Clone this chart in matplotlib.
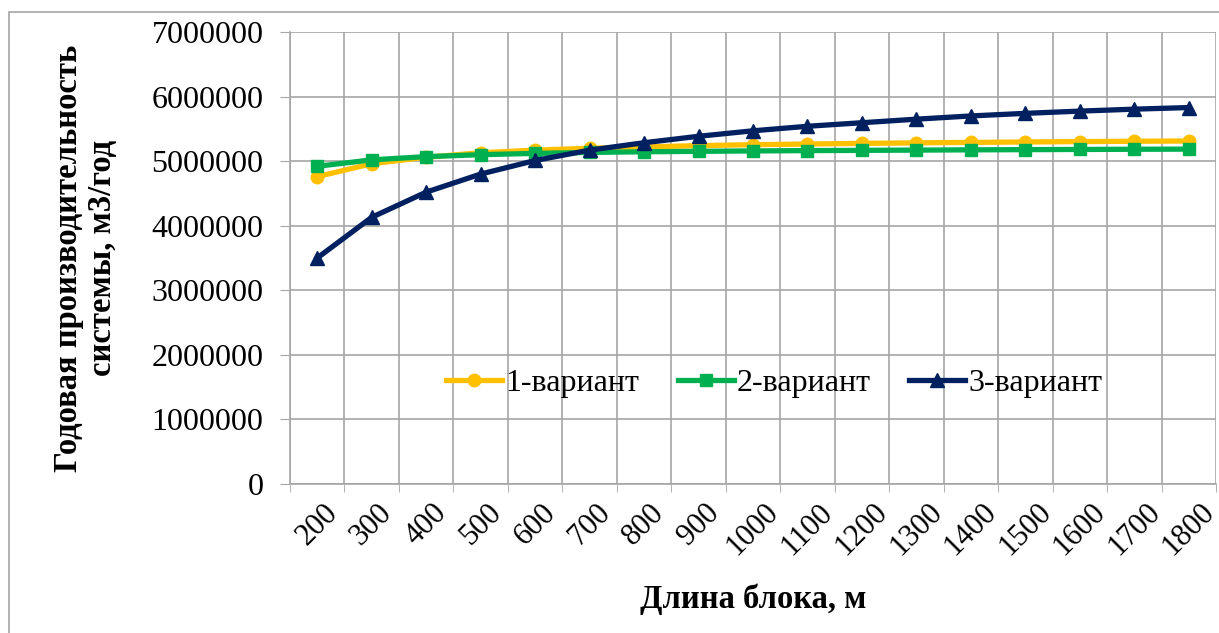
import numpy as np
import matplotlib
matplotlib.use("Agg")
from matplotlib import pyplot as plt
from matplotlib.patches import Rectangle

# block length, m
lengths = [200, 300, 400, 500, 600, 700, 800, 900, 1000, 1100, 1200,
           1300, 1400, 1500, 1600, 1700, 1800]
# annual output, m3/year
var1 = [4760000, 4960000, 5060000, 5130000, 5170000, 5200000, 5220000,
        5240000, 5255000, 5265000, 5275000, 5283000, 5290000, 5297000,
        5303000, 5308000, 5312000]
var2 = [4920000, 5020000, 5070000, 5100000, 5120000, 5135000, 5145000,
        5152000, 5158000, 5163000, 5167000, 5171000, 5175000, 5178000,
        5181000, 5184000, 5186000]
var3 = [3500000, 4130000, 4520000, 4800000, 5010000, 5170000, 5285000,
        5385000, 5470000, 5540000, 5595000, 5650000, 5700000, 5740000,
        5775000, 5805000, 5830000]
series_names = ["1-вариант", "2-вариант", "3-вариант"]

plt.rcParams['font.family'] = ['Liberation Serif', 'DejaVu Serif']

fig = plt.figure(figsize=(12.19, 6.33), dpi=100)
# outer chart frame like excel
fig.patches.append(Rectangle((9/1219, -0.05), 1.2, 1 - 12/633 + 0.05,
                             transform=fig.transFigure, fill=False,
                             edgecolor="#a6a6a6", lw=1.2))
ax = fig.add_axes([290/1219, 1 - 484/633, (1216 - 290)/1219, (484 - 32)/633])

x = np.arange(len(lengths))
ax.plot(x, var1, color="#ffc000", lw=3.8, marker="o", ms=9, label=series_names[0])
ax.plot(x, var2, color="#00b050", lw=3.8, marker="s", ms=9, label=series_names[1])
ax.plot(x, var3, color="#002060", lw=3.8, marker="^", ms=10, label=series_names[2])

ax.set_xlim(-0.5, len(lengths) - 0.5)
ax.set_ylim(0, 7000000)
ax.set_yticks(np.arange(0, 7000001, 1000000))
ax.set_yticklabels([str(v) for v in range(0, 7000001, 1000000)], fontsize=23)
ax.set_xticks(x)
ax.set_xticklabels([str(v) for v in lengths], rotation=45, fontsize=22,
                   ha="center", va="top")
ax.set_xticks(np.arange(-0.5, len(lengths)), minor=True)
ax.tick_params(axis="x", which="major", length=0, pad=10)
ax.tick_params(axis="x", which="minor", length=6, color="#a6a6a6")
ax.tick_params(axis="y", length=7, color="#a6a6a6", pad=12)

ax.grid(True, which="minor", axis="x", color="#a6a6a6", lw=1.2)
ax.grid(True, which="major", axis="y", color="#a6a6a6", lw=1.2)
for s in ["top", "right"]:
    ax.spines[s].set_visible(False)
for s in ["left", "bottom"]:
    ax.spines[s].set_color("#a6a6a6")
    ax.spines[s].set_linewidth(1.2)
ax.set_axisbelow(True)

ax.set_xlabel("Длина блока, м", fontsize=23.5, fontweight="bold", labelpad=16)
ax.set_ylabel("Годовая производительность\nсистемы, м3/год", fontsize=23.5,
              fontweight="bold", labelpad=24, linespacing=1.15)

ax.legend(loc="center", bbox_to_anchor=(0.523, 0.223), ncol=3, frameon=False,
          fontsize=23, handlelength=1.75, handletextpad=0.1, columnspacing=1.2)

fig.savefig("out.png", dpi=100)
